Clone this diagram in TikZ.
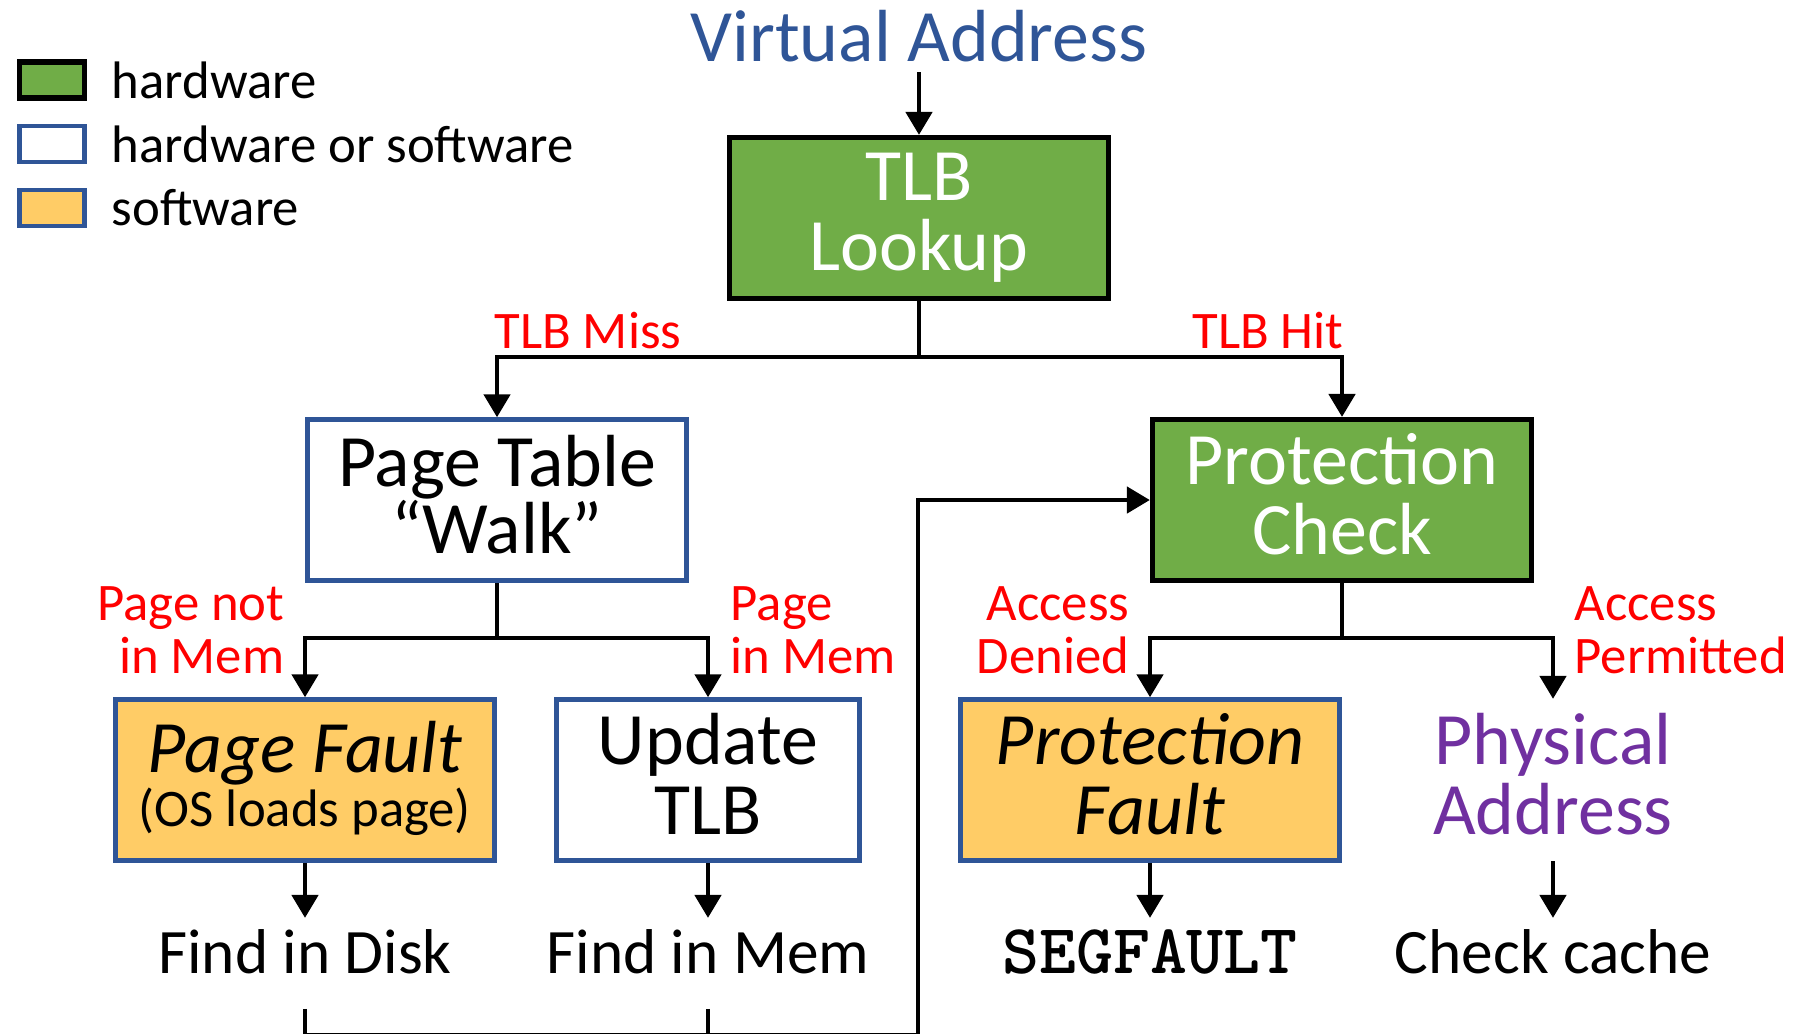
\documentclass[tikz,border=0pt]{standalone}
\usepackage{fontspec}
\setmainfont{Carlito}
\usepackage{tikz}
\usetikzlibrary{positioning, arrows.meta}

\definecolor{hwgreen}{HTML}{70AD47}
\definecolor{swyellow}{HTML}{FFCC66}
\definecolor{boxblue}{HTML}{2F5597}
\definecolor{physpurple}{HTML}{7030A0}

\tikzstyle{block} = [rectangle, align=center, minimum width=3.79cm,
                 minimum height=1.61cm, inner sep=2pt,
                 font=\fontsize{21}{20}\selectfont,
                 execute at end node={\vphantom{p}}]
\tikzstyle{hw} = [draw=black, fill=hwgreen, line width=1.5pt, text=white]
\tikzstyle{hwsw} = [draw=boxblue, fill=white, line width=1.3pt]
\tikzstyle{sw} = [draw=boxblue, fill=swyellow, line width=1.3pt]
\tikzstyle{branch} = [line width=1pt, draw]
\tikzset{
	arr/.style={branch, -{Triangle[length=6.5pt, width=7.5pt]}},
	cond/.style={text=red, inner sep=0pt, font=\fontsize{15}{15}\selectfont},
	result/.style={inner sep=0pt, text height=15.5pt, text depth=10pt,
		font=\fontsize{18}{18}\selectfont},
	key/.style={rectangle, minimum width=0.65cm, minimum height=0.36cm},
	keytext/.style={anchor=west, inner sep=0pt, font=\fontsize{15}{15}\selectfont},
}

\begin{document}
\begin{tikzpicture}[x=0.01cm, y=-0.01cm]
\useasboundingbox (0,0) rectangle (1800,1033);
\clip (0,0) rectangle (1800,1033);

	%legend
\foreach \y/\kind/\kindname in {80/hw/hardware, 144/hwsw/hardware or software, 208/sw/software}
{
	\node [key, \kind] (key\y) at (52,\y) {};
	\node [keytext] (keyname\y) at (111,\y) {\kindname};
}

\node [text=boxblue, inner sep=0pt, text depth=3pt, anchor=base,
	font=\fontsize{21}{20}\selectfont] (va) at (919,61) {Virtual Address};
\node [block, hw] (tlb) at (919,218) {TLB\\Lookup};
\node [block, hwsw] (walk) at (497,500) {Page Table\\[-1pt]“Walk”};
\node [block, hw] (prot) at (1342,500) {Protection\\Check};
\node [block, sw] (pfault) at (305,780) {\textit{Page Fault}\\[-4.5pt]{\fontsize{15}{15}\selectfont (OS loads page)}};
\node [block, hwsw, minimum width=3.03cm] (update) at (708,780) {Update\\TLB};
\node [block, sw] (protfault) at (1150,780) {\textit{Protection}\\\textit{Fault}};
\node [block, text=physpurple] (phys) at (1553,780) {Physical\\Address};

\node [result, anchor=base] (disk) at (305,973) {Find in Disk};
\node [result, anchor=base] (mem) at (708,973) {Find in Mem};
\node [result, anchor=base, font=\fontsize{20}{20}\selectfont\ttfamily\bfseries] (segv) at (1150,973) {SEGFAULT};
\node [result, anchor=base] (cache) at (1553,973) {Check cache};

	%labels
\node [cond, anchor=base] (miss) at (588,348) {TLB Miss};
\node [cond, anchor=base] (hit) at (1268,348) {TLB Hit};
\node [cond, align=right, anchor=north east] (notinmem) at (285,586) {Page not\\in Mem};
\node [cond, align=left, anchor=north west] (inmem) at (730,586) {Page\\in Mem};
\node [cond, align=right, anchor=north east] (denied) at (1130,586) {Access\\Denied};
\node [cond, align=left, anchor=north west] (permitted) at (1574,586) {Access\\Permitted};

\coordinate (tlbfork) at (919,357);
\coordinate (walkfork) at (497,638);
\coordinate (protfork) at (1342,638);
\coordinate (loop) at (918,1035);

\path [arr] (va.south) -- (tlb.north);
\path [branch] (tlb.south) -- (tlbfork);
\path [arr] (tlbfork) -| (walk.north);
\path [arr] (tlbfork) -| (prot.north);

\path [branch] (walk.south) -- (walkfork);
\path [arr] (walkfork) -| (pfault.north);
\path [arr] (walkfork) -| (update.north);

\path [branch] (prot.south) -- (protfork);
\path [arr] (protfork) -| (protfault.north);
\path [arr] (protfork) -| (phys.north);

\path [arr] (pfault.south) -- (disk.north);
\path [arr] (update.south) -- (mem.north);
\path [arr] (protfault.south) -- (segv.north);
\path [arr] (phys.south) -- (cache.north);

\path [arr] (disk.south) |- (loop) |- (prot.west);
\path [branch] (mem.south) -- (mem.south |- loop);

\end{tikzpicture}
\end{document}
